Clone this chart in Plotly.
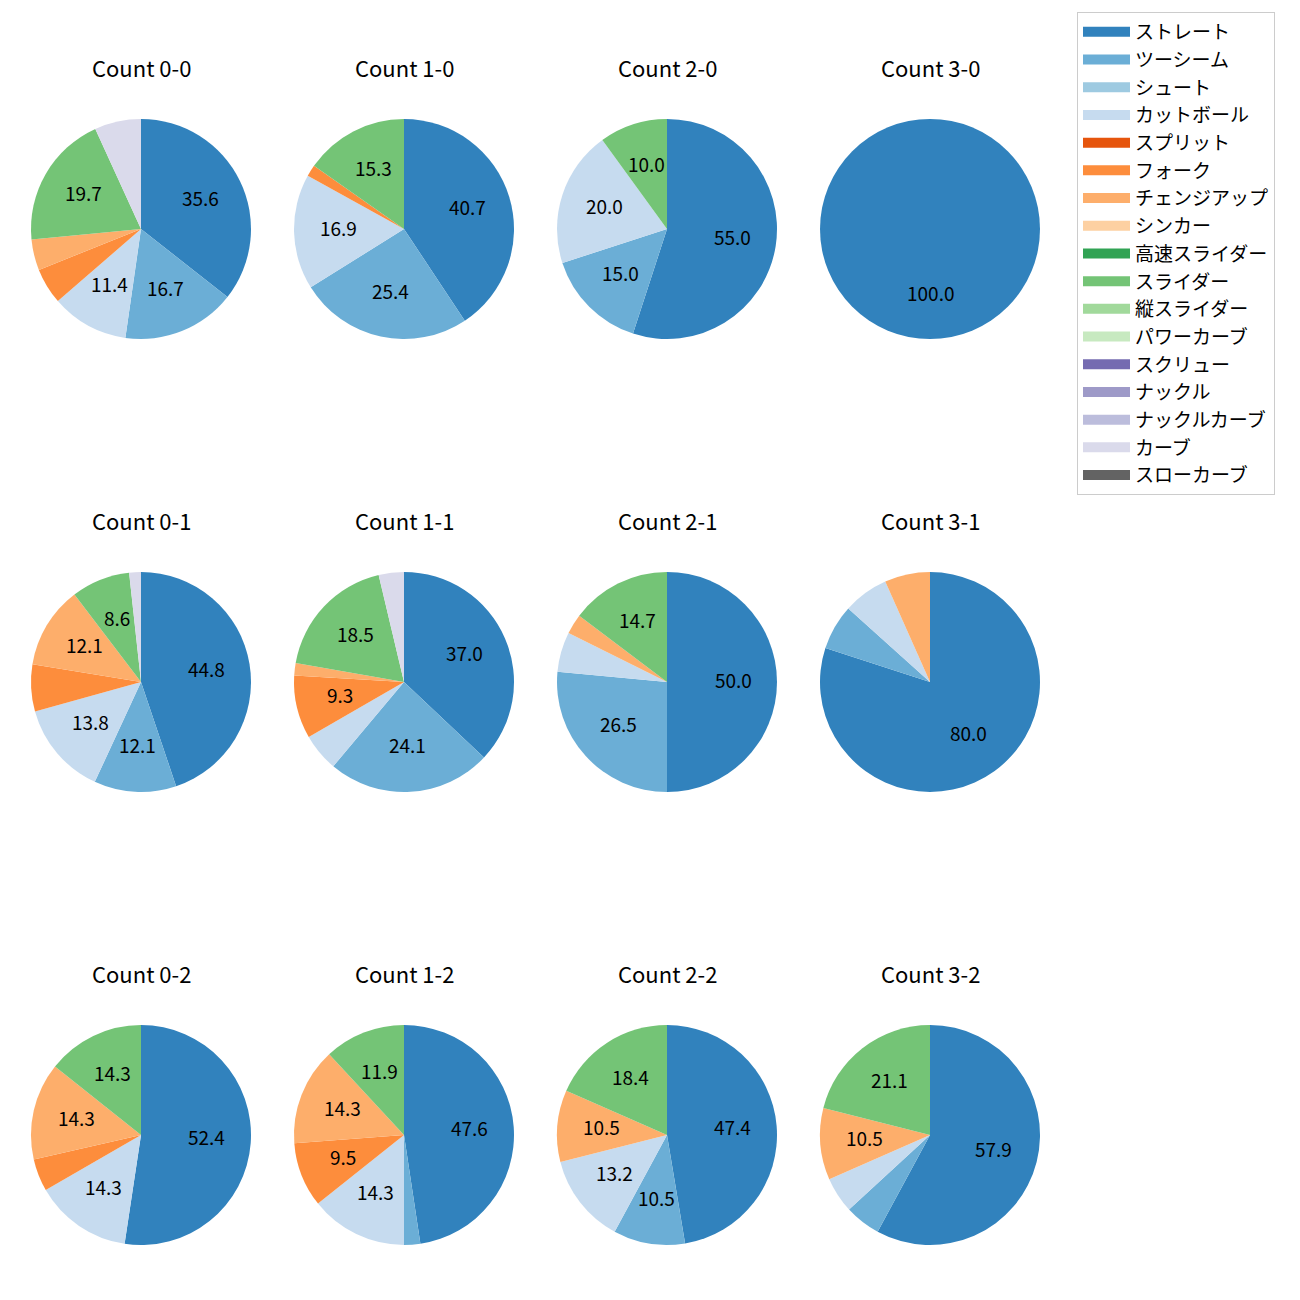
import math
import plotly.graph_objects as go

W = H = 1300

pitch_types = ["ストレート", "ツーシーム", "シュート", "カットボール", "スプリット", "フォーク",
               "チェンジアップ", "シンカー", "高速スライダー", "スライダー", "縦スライダー",
               "パワーカーブ", "スクリュー", "ナックル", "ナックルカーブ", "カーブ", "スローカーブ"]
colors = ["#3182bd", "#6baed6", "#9ecae1", "#c6dbef", "#e6550d", "#fd8d3c", "#fdae6b",
          "#fdd0a2", "#31a354", "#74c476", "#a1d99b", "#c7e9c0", "#756bb1", "#9e9ac8",
          "#bcbddc", "#dadaeb", "#636363"]

count_labels = ["0-0", "1-0", "2-0", "3-0",
                "0-1", "1-1", "2-1", "3-1",
                "0-2", "1-2", "2-2", "3-2"]

# pitch counts per ball-strike count, in pitch_types order
c_0_0 = [47, 22, 0, 15, 0, 7, 6, 0, 0, 26, 0, 0, 0, 0, 0, 9, 0]
c_1_0 = [24, 15, 0, 10, 0, 1, 0, 0, 0, 9, 0, 0, 0, 0, 0, 0, 0]
c_2_0 = [11, 3, 0, 4, 0, 0, 0, 0, 0, 2, 0, 0, 0, 0, 0, 0, 0]
c_3_0 = [5, 0, 0, 0, 0, 0, 0, 0, 0, 0, 0, 0, 0, 0, 0, 0, 0]
c_0_1 = [26, 7, 0, 8, 0, 4, 7, 0, 0, 5, 0, 0, 0, 0, 0, 1, 0]
c_1_1 = [20, 13, 0, 3, 0, 5, 1, 0, 0, 10, 0, 0, 0, 0, 0, 2, 0]
c_2_1 = [17, 9, 0, 2, 0, 0, 1, 0, 0, 5, 0, 0, 0, 0, 0, 0, 0]
c_3_1 = [12, 1, 0, 1, 0, 0, 1, 0, 0, 0, 0, 0, 0, 0, 0, 0, 0]
c_0_2 = [11, 0, 0, 3, 0, 1, 3, 0, 0, 3, 0, 0, 0, 0, 0, 0, 0]
c_1_2 = [20, 1, 0, 6, 0, 4, 6, 0, 0, 5, 0, 0, 0, 0, 0, 0, 0]
c_2_2 = [18, 4, 0, 5, 0, 0, 4, 0, 0, 7, 0, 0, 0, 0, 0, 0, 0]
c_3_2 = [11, 1, 0, 1, 0, 0, 2, 0, 0, 4, 0, 0, 0, 0, 0, 0, 0]

all_counts = [c_0_0, c_1_0, c_2_0, c_3_0, c_0_1, c_1_1, c_2_1, c_3_1,
              c_0_2, c_1_2, c_2_2, c_3_2]

LABEL_MIN_PCT = 8.0

FONT = "Noto Sans CJK JP"
OFF = 8  # page body margin compensation
col_cx = [141 - OFF, 404 - OFF, 667 - OFF, 930 - OFF]
row_cy = [229 - OFF, 682 - OFF, 1135 - OFF]
R = 110
title_offset = 162
label_dy = 3  # font baseline compensation

fig = go.Figure()
annotations = []

for i, (name, vals) in enumerate(zip(count_labels, all_counts)):
    r_i, c_i = divmod(i, 4)
    cx, cy = col_cx[c_i], row_cy[r_i]
    labs = [p for p, v in zip(pitch_types, vals) if v > 0]
    cols = [colors[k] for k, v in enumerate(vals) if v > 0]
    vs = [v for v in vals if v > 0]
    fig.add_trace(go.Pie(
        labels=labs, values=vs, sort=False, direction="clockwise", rotation=0,
        marker=dict(colors=cols, line=dict(width=0)),
        textinfo="none", showlegend=False, hoverinfo="label+percent",
        domain=dict(x=[(cx - R) / W, (cx + R) / W], y=[1 - (cy + R) / H, 1 - (cy - R) / H]),
    ))
    total = sum(vs)
    cum = 0.0
    for v in vs:
        pct = 100.0 * v / total
        mid = 2 * math.pi * (cum + v / 2) / total
        cum += v
        if pct >= LABEL_MIN_PCT:
            px = cx + 0.6 * R * math.sin(mid)
            py = cy - 0.6 * R * math.cos(mid) - label_dy
            annotations.append(dict(
                x=px / W, y=1 - py / H, xref="paper", yref="paper",
                text=f"{pct:.1f}", showarrow=False,
                font=dict(family=FONT, size=19, color="black"),
                xanchor="center", yanchor="middle"))
    annotations.append(dict(
        x=cx / W, y=1 - (cy - title_offset) / H, xref="paper", yref="paper",
        text=f"Count {name}", showarrow=False,
        font=dict(family=FONT, size=22, color="black"),
        xanchor="center", yanchor="middle"))

# legend entries
for k, (p, col) in enumerate(zip(pitch_types, colors)):
    fig.add_trace(go.Scatter(
        x=[None], y=[None], mode="lines", name=p,
        line=dict(color=col, width=10), legendgroup=f"g{k}", showlegend=True,
        hoverinfo="skip"))

fig.update_layout(
    width=W, height=H,
    margin=dict(l=0, r=0, t=0, b=0),
    paper_bgcolor="white", plot_bgcolor="white",
    xaxis=dict(visible=False), yaxis=dict(visible=False),
    annotations=annotations,
    font=dict(family=FONT, color="black"),
    legend=dict(
        x=(1077 - OFF) / W, y=1 - (12 - OFF) / H, xanchor="left", yanchor="top",
        bordercolor="#cccccc", borderwidth=1, bgcolor="white",
        font=dict(family=FONT, size=19, color="black"),
        traceorder="grouped", tracegroupgap=0, itemwidth=47,
    ),
)

fig.write_html("out.html")
